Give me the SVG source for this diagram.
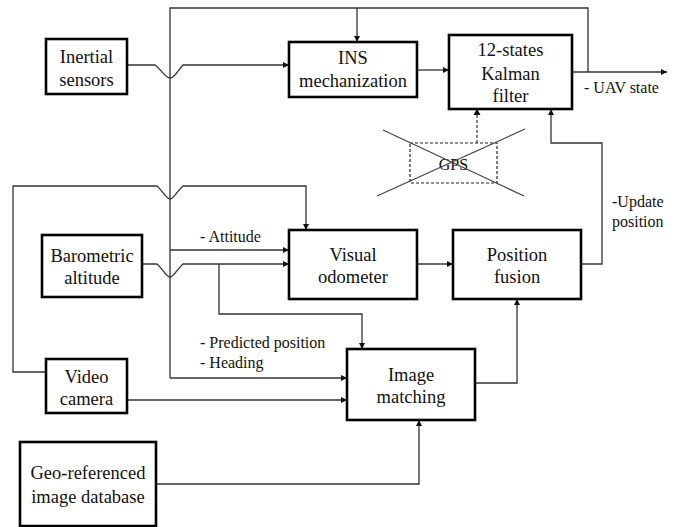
<svg xmlns="http://www.w3.org/2000/svg" width="683" height="527" viewBox="0 0 683 527">
<defs>
<marker id="ah" viewBox="0 0 10 10" refX="10" refY="5" markerWidth="7" markerHeight="6" markerUnits="userSpaceOnUse" orient="auto">
<path d="M0,0 L10,5 L0,10 z" fill="#111"/>
</marker>
</defs>
<style>
.box{fill:#fff;stroke:#000;stroke-width:2.6}
.t{font-family:'Liberation Serif','Times New Roman',Times,serif;font-size:18.5px;fill:#111;text-anchor:middle}
.l{font-family:'Liberation Serif','Times New Roman',Times,serif;font-size:16px;fill:#111}
.c{fill:none;stroke:#333;stroke-width:1.3}
.ca{fill:none;stroke:#333;stroke-width:1.3;marker-end:url(#ah)}
.d{fill:none;stroke:#333;stroke-width:1.2;stroke-dasharray:3,2}
</style>
<rect width="683" height="527" fill="#fff"/>
<g id="connectors">
<path class="c" d="M170,378 V8 H588 V72"/>
<path class="ca" d="M357,8 V42"/>
<path class="ca" d="M170,378 H347"/>
<path class="ca" d="M127,65 H155 C162,70 165,78 170,78 C175,78 178,70 183,65 H289"/>
<path class="ca" d="M417,70 H449"/>
<path class="ca" d="M572,72 H667"/>
<path class="d" d="M477,143 V113"/>
<path d="M473.5,115 L477,108.5 L480.5,115 z" fill="#111"/>
<path class="ca" d="M581,264 H602 V143 H551 V109"/>
<path class="ca" d="M46,372 H13 V186 H157 C163,191 166,199 170,199 C174,199 177,191 183,186 H306 V230"/>
<path class="ca" d="M170,250 H289"/>
<path class="ca" d="M142,264 H157 C163,269 166,277 170,277 C174,277 177,269 183,264 H289"/>
<path class="ca" d="M219,264 V314 H362 V349"/>
<path class="ca" d="M417,264 H453"/>
<path class="ca" d="M127,400 H347"/>
<path class="ca" d="M475,383 H517 V299"/>
<path class="ca" d="M156,484 H419 V420"/>
</g>
<g id="inertial">
<rect class="box" x="46" y="39" width="81" height="55"/>
<text class="t" x="86.5" y="63">Inertial</text>
<text class="t" x="86.5" y="86">sensors</text>
</g>
<g id="ins">
<rect class="box" x="289" y="42" width="128" height="55"/>
<text class="t" x="353" y="64">INS</text>
<text class="t" x="353" y="87">mechanization</text>
</g>
<g id="kalman">
<rect class="box" x="449" y="35" width="123" height="74"/>
<text class="t" x="510.5" y="56">12-states</text>
<text class="t" x="510.5" y="80">Kalman</text>
<text class="t" x="510.5" y="102">filter</text>
</g>
<g id="gps">
<rect x="410" y="143" width="87" height="40" fill="none" stroke="#222" stroke-width="1.2" stroke-dasharray="3,2"/>
<text class="l" x="453.5" y="170" text-anchor="middle">GPS</text>
<path d="M383,130 L524,196 M525,129 L377,196" stroke="#444" stroke-width="1.2" fill="none"/>
</g>
<g id="barometric">
<rect class="box" x="42" y="235" width="100" height="62"/>
<text class="t" x="92" y="262">Barometric</text>
<text class="t" x="92" y="284">altitude</text>
</g>
<g id="visual">
<rect class="box" x="289" y="230" width="128" height="69"/>
<text class="t" x="353" y="261">Visual</text>
<text class="t" x="353" y="283">odometer</text>
</g>
<g id="fusion">
<rect class="box" x="453" y="230" width="128" height="69"/>
<text class="t" x="517" y="261">Position</text>
<text class="t" x="517" y="283">fusion</text>
</g>
<g id="video">
<rect class="box" x="46" y="359" width="81" height="54"/>
<text class="t" x="86.5" y="383">Video</text>
<text class="t" x="86.5" y="405">camera</text>
</g>
<g id="matching">
<rect class="box" x="347" y="349" width="128" height="71"/>
<text class="t" x="411" y="381">Image</text>
<text class="t" x="411" y="403">matching</text>
</g>
<g id="geodb">
<rect class="box" x="20" y="442" width="136" height="84"/>
<text class="t" x="88" y="479">Geo-referenced</text>
<text class="t" x="88" y="503">image database</text>
</g>
<g id="labels">
<text class="l" x="200" y="242">- Attitude</text>
<text class="l" x="200" y="348">- Predicted position</text>
<text class="l" x="200" y="368">- Heading</text>
<text class="l" x="612" y="207">-Update</text>
<text class="l" x="612" y="227">position</text>
<text class="l" x="584" y="93">- UAV state</text>
</g>
</svg>
